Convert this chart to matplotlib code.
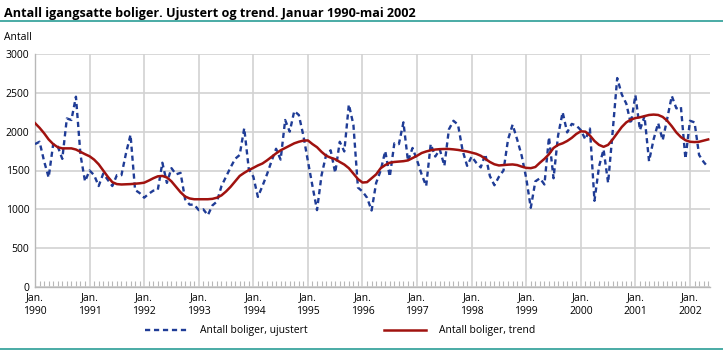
import matplotlib
matplotlib.use("Agg")
import matplotlib.pyplot as plt
from matplotlib.lines import Line2D
import numpy as np

# ── Data: monthly values Jan 1990 - May 2002 ────────────────────────────────
years = list(range(1990, 2003))
tick_labels = [f"Jan.\n{y}" for y in years]

ujustert = [
    1840, 1870, 1620, 1410, 1840, 1810, 1650, 2170, 2150, 2450, 1700, 1360,  # 1990
    1500, 1440, 1300, 1460, 1380, 1300, 1440, 1440, 1720, 1960, 1250, 1210,  # 1991
    1150, 1200, 1240, 1250, 1600, 1340, 1530, 1450, 1470, 1130, 1060, 1060,  # 1992
    990, 1000, 925, 1050, 1100, 1300, 1420, 1540, 1650, 1700, 2045, 1520,    # 1993
    1420, 1160, 1300, 1450, 1620, 1780, 1640, 2150, 2000, 2265, 2215, 1950,  # 1994
    1620, 1300, 990, 1440, 1700, 1760, 1470, 1870, 1745, 2350, 2090, 1280,   # 1995
    1230, 1150, 985, 1340, 1500, 1750, 1420, 1850, 1840, 2120, 1620, 1790,   # 1996
    1630, 1450, 1300, 1840, 1680, 1770, 1560, 2030, 2140, 2090, 1760, 1560,  # 1997
    1680, 1600, 1540, 1710, 1430, 1310, 1420, 1500, 1900, 2090, 1900, 1690,  # 1998
    1400, 1020, 1360, 1400, 1320, 1930, 1400, 1950, 2250, 1990, 2100, 2080,  # 1999
    2020, 1900, 2040, 1110, 1550, 1770, 1340, 2000, 2690, 2480, 2360, 2100,  # 2000
    2470, 2020, 2200, 1620, 1900, 2110, 1890, 2170, 2460, 2300, 2320, 1650,  # 2001
    2140, 2120, 1700, 1610, 1540,                                            # 2002
]

trend = [
    2110, 2050, 1980, 1900, 1840, 1800, 1785, 1785, 1785, 1770, 1740, 1710,  # 1990
    1683, 1640, 1580, 1500, 1420, 1350, 1325, 1320, 1322, 1325, 1330, 1335,  # 1991
    1343, 1370, 1400, 1425, 1430, 1410, 1360, 1290, 1220, 1165, 1140, 1130,  # 1992
    1130, 1130, 1130, 1135, 1150, 1180, 1230, 1290, 1360, 1430, 1470, 1505,  # 1993
    1534, 1565, 1590, 1630, 1675, 1720, 1760, 1790, 1820, 1850, 1870, 1885,  # 1994
    1887, 1840, 1800, 1740, 1690, 1665, 1645, 1610, 1577, 1530, 1460, 1390,  # 1995
    1345, 1350, 1400, 1450, 1530, 1570, 1600, 1610, 1615, 1620, 1630, 1660,  # 1996
    1690, 1725, 1745, 1760, 1770, 1775, 1777, 1777, 1772, 1765, 1755, 1745,  # 1997
    1730, 1715, 1690, 1650, 1610, 1580, 1565, 1570, 1575, 1578, 1570, 1550,  # 1998
    1534, 1530, 1545, 1600, 1650, 1710, 1790, 1830, 1850, 1880, 1920, 1970,  # 1999
    2005, 2000, 1950, 1880, 1830, 1805, 1830, 1900, 1980, 2060, 2120, 2155,  # 2000
    2175, 2185, 2200, 2215, 2220, 2215, 2190, 2140, 2070, 1990, 1930, 1890,  # 2001
    1870, 1866, 1870, 1885, 1900,                                            # 2002
]

BLUE = "#1f3c96"
RED = "#a0120f"
GRID = "#d2d2d2"
TEAL = "#2a9d96"

plt.rcParams["font.family"] = "Open Sans"

W, H = 723, 352
fig = plt.figure(figsize=(W / 100, H / 100), dpi=100)
ax = fig.add_axes([35 / W, 1 - 287 / H, (710 - 35) / W, (287 - 54) / H])

months = np.arange(len(ujustert))
ax.plot(months, ujustert, color=BLUE, linewidth=1.7, linestyle=(0, (2.2, 1.6)),
        label="Antall boliger, ujustert", zorder=3)
ax.plot(months, trend, color=RED, linewidth=1.8,
        label="Antall boliger, trend", zorder=4)

ax.set_xlim(0, len(ujustert) - 0.6)
ax.set_ylim(0, 3000)
ax.set_xticks(np.arange(0, len(ujustert), 12))
ax.set_xticklabels(tick_labels, fontsize=7.5, linespacing=1.3)
ax.set_xticks(months, minor=True)
ax.set_yticks(range(0, 3001, 500))
ax.set_yticklabels([str(v) for v in range(0, 3001, 500)], fontsize=7.5)
ax.tick_params(axis="x", which="major", length=0, pad=4)
ax.tick_params(axis="x", which="minor", direction="in", length=4, color="#b8b8b8", width=0.8)
ax.tick_params(axis="y", length=0, pad=4)
ax.grid(True, which="major", color=GRID, linewidth=1.2)
ax.set_axisbelow(True)
for side in ("top", "right"):
    ax.spines[side].set_visible(False)
for side in ("left", "bottom"):
    ax.spines[side].set_color("#b8b8b8")
    ax.spines[side].set_linewidth(1.0)

# title, rules and axis caption
fig.text(4 / W, 1 - 13 / H, "Antall igangsatte boliger. Ujustert og trend. Januar 1990-mai 2002",
         fontsize=9.1, fontweight="bold", va="center", ha="left")
fig.add_artist(Line2D([0, 1], [1 - 21 / H, 1 - 21 / H], color=TEAL, linewidth=1.2))
fig.add_artist(Line2D([0, 1], [1 - 349 / H, 1 - 349 / H], color=TEAL, linewidth=1.2))
fig.text(4 / W, 1 - 38 / H, "Antall", fontsize=7.5, va="center", ha="left")

fig.legend(loc="center", bbox_to_anchor=(340 / W, 1 - 331 / H), ncol=2, frameon=False,
           fontsize=7.5, handlelength=4.1, handletextpad=1.2, columnspacing=7.3)

fig.savefig("out.png", dpi=100)
